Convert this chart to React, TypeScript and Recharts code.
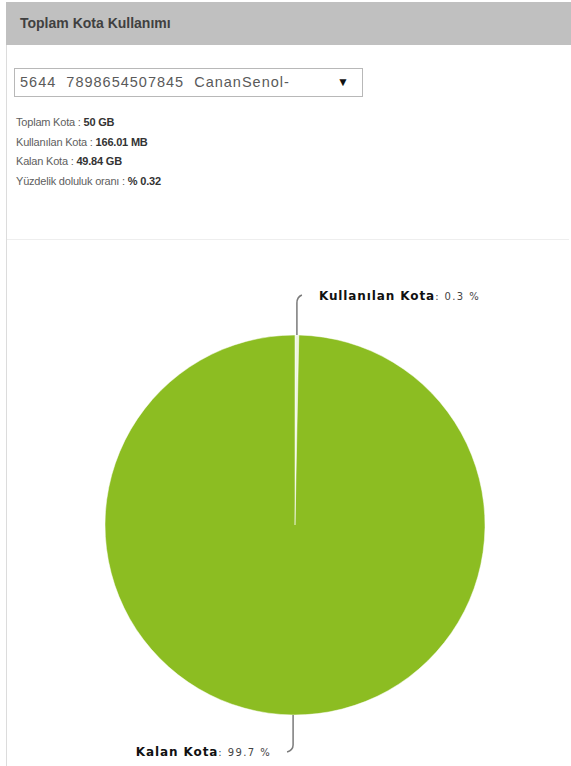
import React from 'react';
import { PieChart, Pie, Cell } from 'recharts';

const sliceNames = ['Kullanılan Kota', 'Kalan Kota'];
const sliceValues = [0.32, 99.68];
const sliceColors = ['#eef5e0', '#8cbd22'];

const infoLabels = ['Toplam Kota', 'Kullanılan Kota', 'Kalan Kota', 'Yüzdelik doluluk oranı'];
const infoValues = ['50 GB', '166.01 MB', '49.84 GB', '% 0.32'];

const data = sliceNames.map((name, i) => ({ name, value: sliceValues[i] }));
const total = sliceValues.reduce((a, b) => a + b, 0);

const RADIAN = Math.PI / 180;

const renderLabel = (props: any) => {
  const { cx, cy, midAngle, outerRadius, index, value } = props;
  const sin = Math.sin(-midAngle * RADIAN);
  const cos = Math.cos(-midAngle * RADIAN);
  const sx = cx + outerRadius * cos;
  const sy = cy + outerRadius * sin;
  const pct = ((value / total) * 100).toFixed(1);
  const up = sin < 0;
  let d: string;
  let tx: number;
  let ty: number;
  let anchor: 'start' | 'end';
  if (up) {
    d = `M${sx},${sy} L${sx},${sy - 32} Q${sx},${sy - 38} ${sx + 5},${sy - 40}`;
    tx = sx + 22;
    ty = sy - 35;
    anchor = 'start';
  } else {
    d = `M${sx},${sy} L${sx},${sy + 30} Q${sx},${sy + 35} ${sx - 6},${sy + 37}`;
    tx = sx - 22;
    ty = sy + 41;
    anchor = 'end';
  }
  return (
    <g key={`lbl-${index}`}>
      <path d={d} stroke="#7a7a7a" strokeWidth={1.5} fill="none" />
      <text x={tx} y={ty} textAnchor={anchor} fontSize={12} fontFamily="Verdana, DejaVu Sans, sans-serif" fill="#111">
        <tspan fontWeight="bold" letterSpacing={0.9}>{data[index].name}</tspan>
        <tspan fill="#444" fontSize={10} letterSpacing={1.4}>: {pct} %</tspan>
      </text>
    </g>
  );
};

export default function App() {
  return (
    <div
      style={{
        position: 'absolute',
        left: 0,
        top: 0,
        width: 571,
        height: 766,
        background: '#fff',
        fontFamily: 'Arial, "Liberation Sans", sans-serif',
        overflow: 'hidden',
      }}
    >
      <div style={{ position: 'absolute', left: 6, top: 2, width: 565, height: 764, borderLeft: '1px solid #dcdcdc' }} />
      <div
        style={{
          position: 'absolute',
          left: 6,
          top: 2,
          width: 565,
          height: 43,
          background: '#c0c0c0',
          color: '#404040',
          fontWeight: 'bold',
          fontSize: 14,
          lineHeight: '43px',
          paddingLeft: 14,
          boxSizing: 'border-box',
        }}
      >
        Toplam Kota Kullanımı
      </div>
      <div
        style={{
          position: 'absolute',
          left: 14,
          top: 68,
          width: 349,
          height: 29,
          border: '1px solid #b8b8b8',
          boxSizing: 'border-box',
          fontSize: 14.5,
          color: '#5a5a5a',
          lineHeight: '27px',
          paddingLeft: 5,
          letterSpacing: 1.0,
          whiteSpace: 'nowrap',
        }}
      >
        5644&nbsp; 7898654507845&nbsp; CananSenol-
        <span style={{ position: 'absolute', left: 322, top: 0, fontSize: 12, color: '#111', letterSpacing: 0 }}>▼</span>
      </div>
      {infoLabels.map((l, i) => (
        <div
          key={l}
          style={{ position: 'absolute', left: 16, top: 116 + i * 19.5, fontSize: 11, color: '#606060', letterSpacing: -0.2 }}
        >
          {l} : <b style={{ color: '#333' }}>{infoValues[i]}</b>
        </div>
      ))}
      <div style={{ position: 'absolute', left: 7, top: 239, width: 562, height: 1, background: '#eeeeee' }} />
      <div style={{ position: 'absolute', left: 0, top: 240 }}>
        <PieChart width={571} height={526}>
          <Pie
            data={data}
            dataKey="value"
            nameKey="name"
            cx={290}
            cy={280}
            outerRadius={190}
            startAngle={90}
            endAngle={-270}
            stroke="#ffffff"
            strokeWidth={0.5}
            label={renderLabel}
            labelLine={false}
            isAnimationActive={false}
          >
            {data.map((_, i) => (
              <Cell key={`cell-${i}`} fill={sliceColors[i]} />
            ))}
          </Pie>
        </PieChart>
      </div>
    </div>
  );
}
